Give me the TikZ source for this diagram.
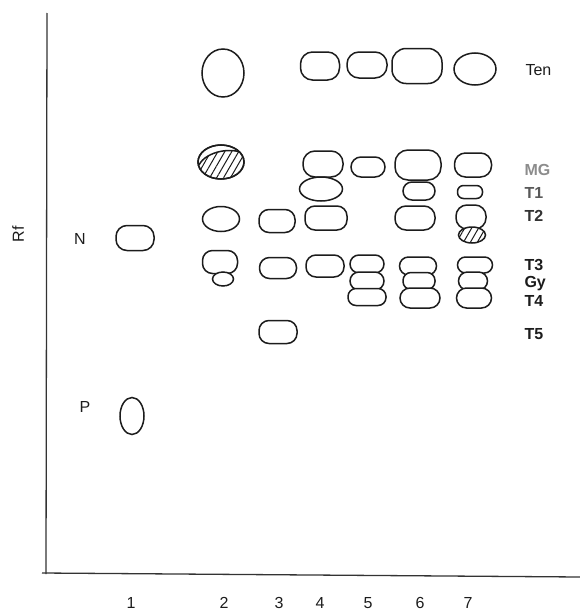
\documentclass[tikz,border=0pt]{standalone}
\usepackage{fontspec}
\setmainfont{Liberation Sans}
\usetikzlibrary{shapes.geometric,patterns.meta}
\definecolor{inkcolor}{HTML}{1c1c1c}

\begin{document}
\begin{tikzpicture}[
    x=1pt, y=-1pt,
    every node/.style={font=\fontsize{16}{19}\selectfont, text=inkcolor},
    spot/.style={rectangle, draw=inkcolor, fill=white, line width=1.5pt,
                 rounded corners=10pt, inner sep=0pt},
    oval/.style={ellipse, draw=inkcolor, fill=white, line width=1.5pt,
                 inner sep=0pt},
    size/.style 2 args={minimum width=#1pt, minimum height=#2pt},
    hatch/.style={pattern={Lines[angle=60, distance=6pt, line width=1pt]},
                  pattern color=inkcolor},
    band/.style={anchor=west, font=\fontsize{16}{19}\selectfont\bfseries},
    lane/.style={anchor=base},
    axis/.style={draw=black!80, line width=1.3pt}
]
\useasboundingbox (0,0) rectangle (580,613);

\coordinate (top) at (47,13);
\coordinate (origin) at (46,574);
\coordinate (xstart) at (42,573);
\coordinate (xend) at (580,577);
\draw[axis] (top) -- (origin);
\draw[axis] (xstart) -- (xend);

\node[rotate=90] (rf) at (18,234) {Rf};
\node (n) at (80,239) {N};
\node (p) at (85,407) {P};

\node[spot, size={38}{25}, rounded corners=11pt] (l1n) at (135,238) {};
\node[oval, size={24}{37}] (l1p) at (132,416) {};

\node[oval, size={42}{48}] (l2ten) at (223,73) {};
\node[oval, size={46}{34}] (l2mg) at (221,162) {};
\begin{scope}
    \clip (l2mg.center) ellipse [x radius=23pt, y radius=17pt];
    \fill[hatch] (190,165) -- (199,165) .. controls (206,151) and (234,146) .. (246,155)
        -- (250,155) -- (250,185) -- (190,185) -- cycle;
    \draw[inkcolor, line width=1.5pt] (199,165) .. controls (206,151) and (234,146) .. (246,155);
\end{scope}
\draw[inkcolor, line width=1.5pt] (l2mg.center) ellipse [x radius=23pt, y radius=17pt];
\node[oval, size={37}{25}] (l2t2) at (221,219) {};
\node[spot, size={35}{23}] (l2t3) at (220,262) {};
\node[oval, size={21}{14}] (l2x) at (223,279) {};

\node[spot, size={36}{23}] (l3t2) at (277,221) {};
\node[spot, size={37}{21}] (l3t3) at (278,268) {};
\node[spot, size={38}{23}] (l3t5) at (278,332) {};

\node[spot, size={39}{28}, rounded corners=12pt] (l4ten) at (320,66) {};
\node[spot, size={40}{26}, rounded corners=12pt] (l4mg) at (323,164) {};
\node[oval, size={43}{24}] (l4t1) at (321,189) {};
\node[spot, size={42}{24}] (l4t2) at (326,218) {};
\node[spot, size={38}{22}] (l4t3) at (325,266) {};

\node[spot, size={40}{26}, rounded corners=12pt] (l5ten) at (367,65) {};
\node[spot, size={34}{20}] (l5mg) at (368,167) {};
\node[spot, size={34}{18}, rounded corners=9pt] (l5t3) at (367,264) {};
\node[spot, size={34}{18}, rounded corners=9pt] (l5gy) at (367,281) {};
\node[spot, size={38}{17}, rounded corners=8pt] (l5t4) at (367,297) {};

\node[spot, size={50}{35}, rounded corners=14pt] (l6ten) at (417,66) {};
\node[spot, size={46}{30}, rounded corners=13pt] (l6mg) at (418,165) {};
\node[spot, size={32}{18}, rounded corners=9pt] (l6t1) at (419,191) {};
\node[spot, size={40}{24}, rounded corners=11pt] (l6t2) at (415,218) {};
\node[spot, size={37}{18}, rounded corners=9pt] (l6t3) at (418,266) {};
\node[spot, size={32}{17}, rounded corners=8pt] (l6gy) at (419,281) {};
\node[spot, size={40}{20}] (l6t4) at (420,298) {};

\node[oval, size={42}{32}] (l7ten) at (475,69) {};
\node[spot, size={37}{24}, rounded corners=11pt] (l7mg) at (473,165) {};
\node[spot, size={25}{13}, rounded corners=6pt] (l7t1) at (470,192) {};
\node[spot, size={30}{24}, rounded corners=11pt] (l7t2) at (471,217) {};
\node[oval, size={27}{16}, preaction={fill=white}, hatch] (l7x) at (472,235) {};
\node[spot, size={35}{16}, rounded corners=8pt] (l7t3) at (475,265) {};
\node[spot, size={29}{18}, rounded corners=9pt] (l7gy) at (473,281) {};
\node[spot, size={35}{20}] (l7t4) at (474,298) {};

\node[anchor=west] (ten) at (522,70) {Ten};
\node[band, text=black!45] (mg) at (521,170) {MG};
\node[band, text=black!65] (t1) at (521,193) {T1};
\node[band, text=black!80] (t2) at (521,216) {T2};
\node[band] (t3) at (521,265) {T3};
\node[band] (gy) at (521,284) {Gy};
\node[band] (t4) at (521,301) {T4};
\node[band] (t5) at (521,334) {T5};

\node[lane] (lane1) at (131,608) {1};
\node[lane] (lane2) at (224,608) {2};
\node[lane] (lane3) at (279,608) {3};
\node[lane] (lane4) at (320,608) {4};
\node[lane] (lane5) at (368,608) {5};
\node[lane] (lane6) at (420,608) {6};
\node[lane] (lane7) at (468,608) {7};
\end{tikzpicture}
\end{document}
